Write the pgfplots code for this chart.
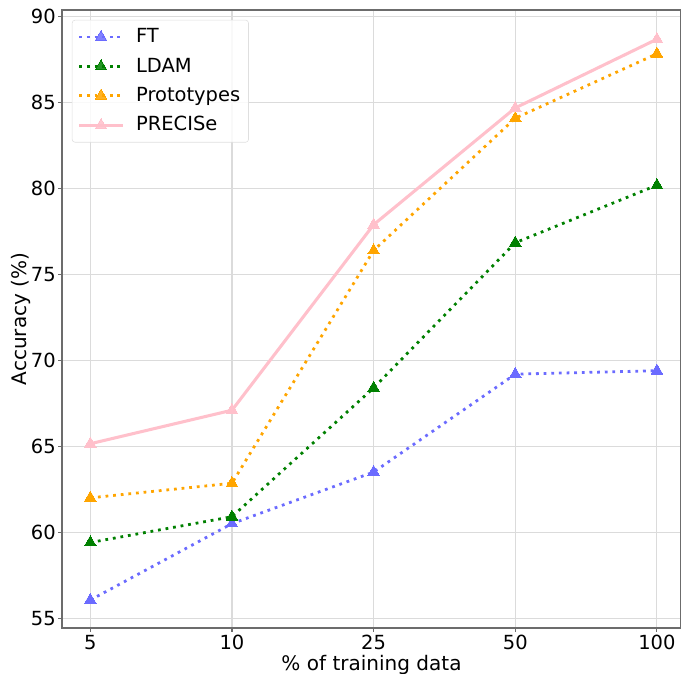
\documentclass[border=0pt]{standalone}
\usepackage{fontspec}
\setmainfont{DejaVu Sans}
\usepackage{pgfplots}
\pgfplotsset{compat=1.18}
\definecolor{ftblue}{rgb}{0.42,0.42,1}
\definecolor{ldamgreen}{rgb}{0,0.5,0}
\definecolor{protoorange}{rgb}{1,0.647,0}
\definecolor{precpink}{rgb}{1,0.753,0.796}
\definecolor{gridgray}{rgb}{0.86,0.86,0.86}
\begin{document}
\fontsize{14}{17}\selectfont
\begin{tikzpicture}
\begin{axis}[
    scale only axis,
    width=445.3pt, height=444.6pt,
    xmin=-0.2, xmax=4.17,
    ymin=54.42, ymax=90.4,
    xtick={0,1,2,3,4},
    xticklabels={5,10,25,50,100},
    ytick={55,60,65,70,75,80,85,90},
    xlabel={\% of training data},
    ylabel={Accuracy (\%)},
    every axis x label/.style={at={(axis description cs:0.5,-0.068)}, anchor=base},
    every axis y label/.style={at={(axis description cs:-0.067,0.5)}, rotate=90, anchor=center},
    /pgf/number format/assume math mode=true,
    tick label style={font=\fontsize{14}{17}\selectfont},
    yticklabel style={inner xsep=1.5pt},
    xticklabel style={inner ysep=2pt},
    label style={font=\fontsize{14.4}{17}\selectfont},
    xmajorgrids=true, ymajorgrids=true,
    grid style={gridgray, line width=0.8pt},
    axis line style={gray!85!black, line width=0.8pt},
    tick align=outside,
    major tick length=2.8pt,
    tick style={gray!85!black, line width=0.8pt},
    xtick pos=bottom, ytick pos=left,
    legend cell align=left,
    legend style={at={(0.016,0.984)}, anchor=north west,
        draw=gray!25, rounded corners=2pt, fill=white, fill opacity=0.85, text opacity=1,
        font=\fontsize{14}{17}\selectfont, row sep=4.8pt, inner xsep=4pt, inner ysep=4pt,
        /tikz/every odd column/.append style={column sep=6.5pt}},
    legend image code/.code={
        \draw[mark repeat=2,mark phase=2] plot coordinates {(0cm,0cm) (0.55cm,0cm) (1.1cm,0cm)};
    },
]

% FT
\addplot[color=ftblue, line width=2pt, dash pattern=on 2pt off 3.5pt,
    mark=triangle*, mark size=4.8pt, mark options={solid, line width=0pt}]
    coordinates {(0,56.05)(1,60.5)(2,63.5)(3,69.2)(4,69.4)};

% LDAM
\addplot[color=ldamgreen, line width=2pt, dash pattern=on 2pt off 3.5pt,
    mark=triangle*, mark size=4.8pt, mark options={solid, line width=0pt}]
    coordinates {(0,59.4)(1,60.9)(2,68.4)(3,76.85)(4,80.2)};

% Prototypes
\addplot[color=protoorange, line width=2pt, dash pattern=on 2pt off 3.5pt,
    mark=triangle*, mark size=4.8pt, mark options={solid, line width=0pt}]
    coordinates {(0,62.0)(1,62.85)(2,76.4)(3,84.1)(4,87.85)};

% PRECISe
\addplot[color=precpink, line width=2.2pt,
    mark=triangle*, mark size=4.8pt, mark options={solid, line width=0pt}]
    coordinates {(0,65.15)(1,67.1)(2,77.9)(3,84.7)(4,88.7)};

\legend{FT, LDAM, Prototypes, PRECISe}
\end{axis}
% crop the page like the reference: x label cut at the bottom, no right margin
\pgfresetboundingbox
\path[use as bounding box] ([shift={(-44.6pt,-32.4pt)}]current axis.south west)
    rectangle ([shift={(0pt,7.2pt)}]current axis.north east);
\end{tikzpicture}
\end{document}
